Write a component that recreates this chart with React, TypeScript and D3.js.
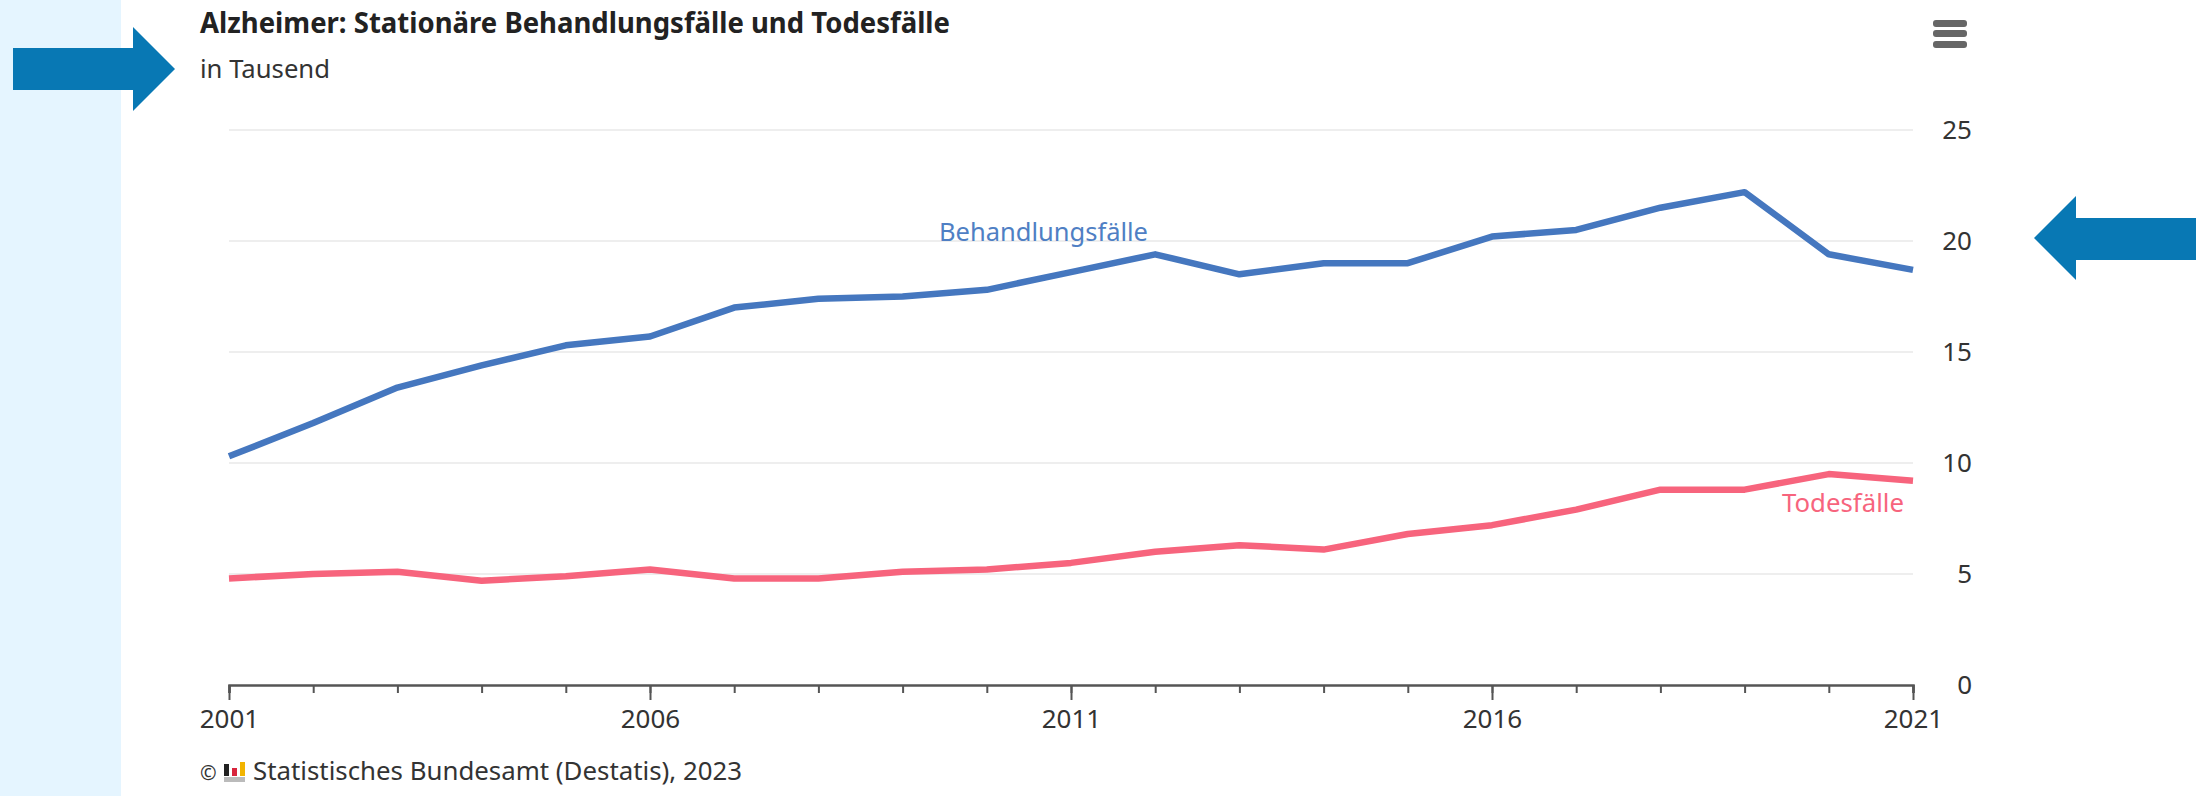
import React, { useRef, useEffect } from 'react';
import * as d3 from 'd3';

const years = d3.range(2001, 2022);
const behandlungsfaelle = [10.3, 11.8, 13.4, 14.4, 15.3, 15.7, 17.0, 17.4, 17.5, 17.8, 18.6, 19.4, 18.5, 19.0, 19.0, 20.2, 20.5, 21.5, 22.2, 19.4, 18.7];
const todesfaelle = [4.8, 5.0, 5.1, 4.7, 4.9, 5.2, 4.8, 4.8, 5.1, 5.2, 5.5, 6.0, 6.3, 6.1, 6.8, 7.2, 7.9, 8.8, 8.8, 9.5, 9.2];
const xLabelTicks = [2001, 2006, 2011, 2016, 2021];
const yTicks = [0, 5, 10, 15, 20, 25];

const width = 2198;
const height = 796;
const FONT = '"Noto Sans", sans-serif';

export default function App() {
  const ref = useRef<SVGSVGElement>(null);

  useEffect(() => {
    if (!ref.current) return;
    const svg = d3.select(ref.current);
    svg.selectAll('*').remove();

    const x = d3.scaleLinear().domain([2001, 2021]).range([229, 1913]);
    const y = d3.scaleLinear().domain([0, 25]).range([685, 130]);

    svg.append('rect').attr('width', width).attr('height', height).attr('fill', '#fff');
    svg.append('rect').attr('width', 121).attr('height', height).attr('fill', '#e5f5ff');

    // grid
    svg.selectAll('line.grid')
      .data(yTicks.filter(d => d > 0))
      .enter().append('line')
      .attr('class', 'grid')
      .attr('x1', x(2001)).attr('x2', x(2021))
      .attr('y1', d => y(d)).attr('y2', d => y(d))
      .attr('stroke', '#eeeeee')
      .attr('stroke-width', 2);

    // x axis, small ticks for every year and long ones for the labelled years
    const minor = svg.append('g')
      .attr('transform', `translate(0,${y(0)})`)
      .call(d3.axisBottom(x).tickValues(years).tickSize(8).tickFormat(() => ''));
    minor.select('.domain').attr('stroke', '#555').attr('stroke-width', 2.5);
    minor.selectAll('.tick line').attr('stroke', '#555').attr('stroke-width', 2);

    const major = svg.append('g')
      .attr('transform', `translate(0,${y(0)})`)
      .call(d3.axisBottom(x).tickValues(xLabelTicks).tickSize(15).tickPadding(10).tickFormat(d3.format('d')));
    major.select('.domain').remove();
    major.selectAll('.tick line').attr('stroke', '#555').attr('stroke-width', 2);
    major.selectAll('.tick text')
      .attr('fill', '#333').style('font-family', FONT).style('font-size', '26px');

    const yAxis = svg.append('g')
      .attr('transform', 'translate(1972,0)')
      .call(d3.axisLeft(y).tickValues(yTicks).tickSize(0).tickPadding(0));
    yAxis.select('.domain').remove();
    yAxis.selectAll('.tick text')
      .attr('fill', '#333').style('font-family', FONT).style('font-size', '26px');

    const line = d3.line<number>()
      .x((_, i) => x(years[i]))
      .y(d => y(d));

    const series = [
      { values: behandlungsfaelle, color: '#4577bf' },
      { values: todesfaelle, color: '#f7647d' },
    ];
    svg.selectAll('path.series')
      .data(series)
      .enter().append('path')
      .attr('class', 'series')
      .attr('d', d => line(d.values))
      .attr('fill', 'none')
      .attr('stroke', d => d.color)
      .attr('stroke-width', 6.5)
      .attr('stroke-linejoin', 'round');

    const addText = (t: string, px: number, py: number, size: number, color: string, weight = 400, len?: number) => {
      const el = svg.append('text')
        .text(t)
        .attr('x', px)
        .attr('y', py)
        .attr('fill', color)
        .style('font-family', FONT)
        .style('font-size', `${size}px`)
        .style('font-weight', weight);
      if (len) el.attr('textLength', len).attr('lengthAdjust', 'spacingAndGlyphs');
      return el;
    };

    addText('Alzheimer: Stationäre Behandlungsfälle und Todesfälle', 200, 33, 28, '#222', 700, 750);
    addText('in Tausend', 200, 78, 26, '#333', 400, 130);
    addText('Behandlungsfälle', 939, 241, 26, '#4f7fc4', 400, 209);
    addText('Todesfälle', 1782, 512, 26, '#f7647d', 400, 122);
    addText('©', 200, 780, 20, '#333');
    addText('Statistisches Bundesamt (Destatis), 2023', 253, 780, 26, '#333', 400, 489);

    // Destatis logo
    const logo = svg.append('g');
    logo.append('rect').attr('x', 224).attr('y', 777).attr('width', 21).attr('height', 5).attr('fill', '#bbb');
    logo.append('rect').attr('x', 224).attr('y', 764).attr('width', 5).attr('height', 12).attr('fill', '#222');
    logo.append('rect').attr('x', 232).attr('y', 768).attr('width', 5).attr('height', 8).attr('fill', '#d8243c');
    logo.append('rect').attr('x', 240).attr('y', 762).attr('width', 5).attr('height', 14).attr('fill', '#f2b400');

    // menu icon
    svg.selectAll('rect.menu')
      .data([20, 30, 41])
      .enter().append('rect')
      .attr('class', 'menu')
      .attr('x', 1933).attr('y', d => d)
      .attr('width', 34).attr('height', 7).attr('rx', 3)
      .attr('fill', '#666');

    // arrows drawn over the screenshot
    const arrow = d3.line();
    svg.append('path')
      .attr('d', arrow([[13, 48], [133, 48], [133, 27], [175, 69], [133, 111], [133, 90], [13, 90]]) + 'Z')
      .attr('fill', '#0878b4');
    svg.append('path')
      .attr('d', arrow([[2196, 218], [2076, 218], [2076, 196], [2034, 238], [2076, 280], [2076, 260], [2196, 260]]) + 'Z')
      .attr('fill', '#0878b4');
  }, []);

  return <svg ref={ref} width={width} height={height} style={{ position: 'absolute', left: 0, top: 0 }} />;
}
